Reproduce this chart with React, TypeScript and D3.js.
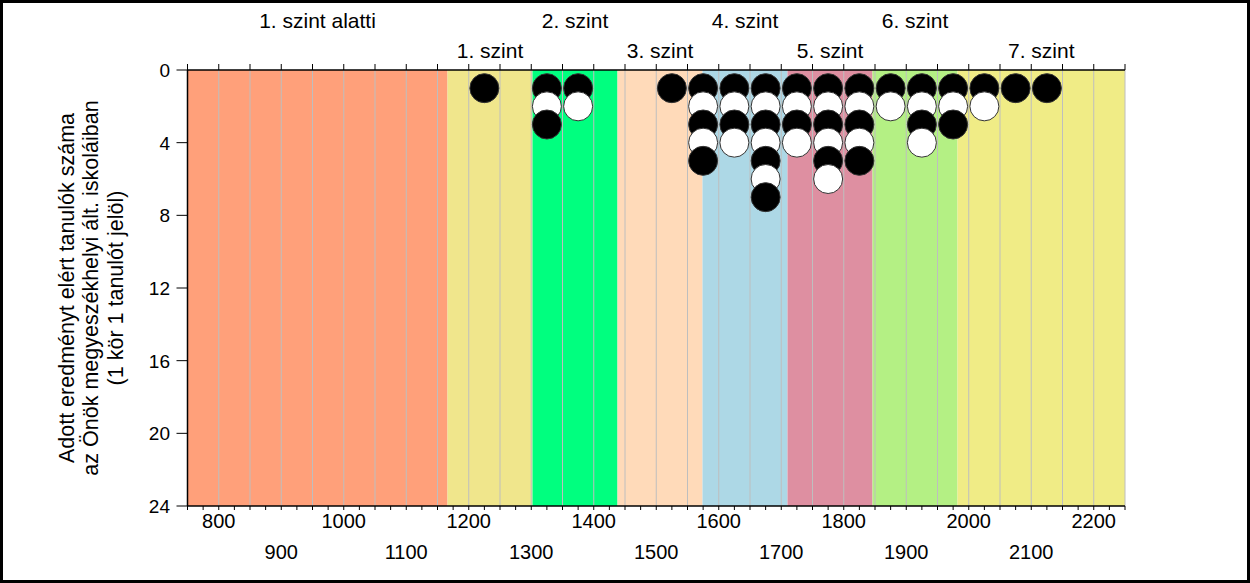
import React from 'react';
import * as d3 from 'd3';

const levelBounds = [750, 1166, 1302, 1438, 1574, 1710, 1846, 1982, 2250];
const levelNames = ['1. szint alatti', '1. szint', '2. szint', '3. szint', '4. szint', '5. szint', '6. szint', '7. szint'];
const levelColors = ['#FFA07A', '#F0E68C', '#00FF7F', '#FFDAB9', '#ADD8E6', '#DE8FA1', '#B4F084', '#F0EC86'];

const scoreBins = [1225, 1325, 1375, 1525, 1575, 1625, 1675, 1725, 1775, 1825, 1875, 1925, 1975, 2025, 2075, 2125];
const studentCounts = [1, 3, 2, 1, 5, 4, 7, 4, 6, 5, 2, 4, 3, 2, 1, 1];

const yTicks = [0, 4, 8, 12, 16, 20, 24];
const xLabelsUpper = [800, 1000, 1200, 1400, 1600, 1800, 2000, 2200];
const xLabelsLower = [900, 1100, 1300, 1500, 1700, 1900, 2100];

const yTitleLines = [
  'Adott eredményt elért tanulók száma',
  'az Önök megyeszékhelyi ált. iskoláiban',
  '(1 kör 1 tanulót jelöl)',
];

const W = 1250;
const H = 583;
const L = 187.5, R = 1125, T = 70, B = 506;
const FONT = '"Liberation Sans", Arial, sans-serif';

export default function App() {
  const x = d3.scaleLinear().domain([750, 2250]).range([L, R]);
  const y = d3.scaleLinear().domain([0, 24]).range([T, B]);
  const gridVals = d3.range(800, 2251, 50);
  const topTicks = d3.range(750, 2251, 50);
  const bottomTicks = d3.range(750, 2251, 25);

  const circles: { cx: number; cy: number; black: boolean; key: string }[] = [];
  scoreBins.forEach((s, i) => {
    for (let k = 1; k <= studentCounts[i]; k++) {
      circles.push({ cx: x(s), cy: y(k), black: k % 2 === 1, key: `${s}-${k}` });
    }
  });

  return (
    <svg width={W} height={H} style={{ position: 'absolute', left: 0, top: 0, background: '#fff' }} fontFamily={FONT}>
      <rect x={1.5} y={1.5} width={W - 3} height={H - 3} fill="#fff" stroke="#000" strokeWidth={3} />
      {levelNames.map((n, i) => (
        <rect key={n} x={x(levelBounds[i])} y={T} width={x(levelBounds[i + 1]) - x(levelBounds[i])} height={B - T} fill={levelColors[i]} />
      ))}
      {gridVals.map(v => (
        <line key={'g' + v} x1={x(v)} x2={x(v)} y1={T} y2={B} stroke="#BEBEBE" strokeWidth={1} />
      ))}
      <line x1={L} x2={R} y1={T} y2={T} stroke="#000" strokeWidth={1.5} />
      <line x1={L} x2={R} y1={B} y2={B} stroke="#000" strokeWidth={1.5} />
      <line x1={L} x2={L} y1={T} y2={B} stroke="#000" strokeWidth={1.5} />
      {topTicks.map(v => (
        <line key={'tt' + v} x1={x(v)} x2={x(v)} y1={T} y2={T - 6} stroke="#000" strokeWidth={1} />
      ))}
      {bottomTicks.map(v => (
        <line key={'bt' + v} x1={x(v)} x2={x(v)} y1={B} y2={B + 4} stroke="#000" strokeWidth={1} />
      ))}
      {yTicks.map(v => (
        <g key={'y' + v}>
          <line x1={L - 11} x2={L} y1={y(v)} y2={y(v)} stroke="#000" strokeWidth={1} />
          <text x={170} y={y(v)} dy="0.36em" textAnchor="end" fontSize={19} fill="#000">{v}</text>
        </g>
      ))}
      {xLabelsUpper.map(v => (
        <text key={'xu' + v} x={x(v)} y={527.5} textAnchor="middle" fontSize={20} fill="#000">{v}</text>
      ))}
      {xLabelsLower.map(v => (
        <text key={'xl' + v} x={x(v)} y={559} textAnchor="middle" fontSize={20} fill="#000">{v}</text>
      ))}
      {levelNames.map((n, i) => (
        <text key={'ln' + n} x={(x(levelBounds[i]) + x(levelBounds[i + 1])) / 2} y={i % 2 === 0 ? 27.5 : 58} textAnchor="middle" fontSize={21} fill="#000">{n}</text>
      ))}
      {yTitleLines.map((t, i) => {
        const bx = 73.5 + i * 24.5;
        const cy = (T + B) / 2;
        return (
          <text key={'yt' + i} x={bx} y={cy} transform={`rotate(-90 ${bx} ${cy})`} textAnchor="middle" fontSize={21.5} fill="#000">{t}</text>
        );
      })}
      {circles.map(c => (
        <circle key={c.key} cx={c.cx} cy={c.cy} r={14.5} fill={c.black ? '#000' : '#fff'} stroke="#333" strokeWidth={1} />
      ))}
    </svg>
  );
}
